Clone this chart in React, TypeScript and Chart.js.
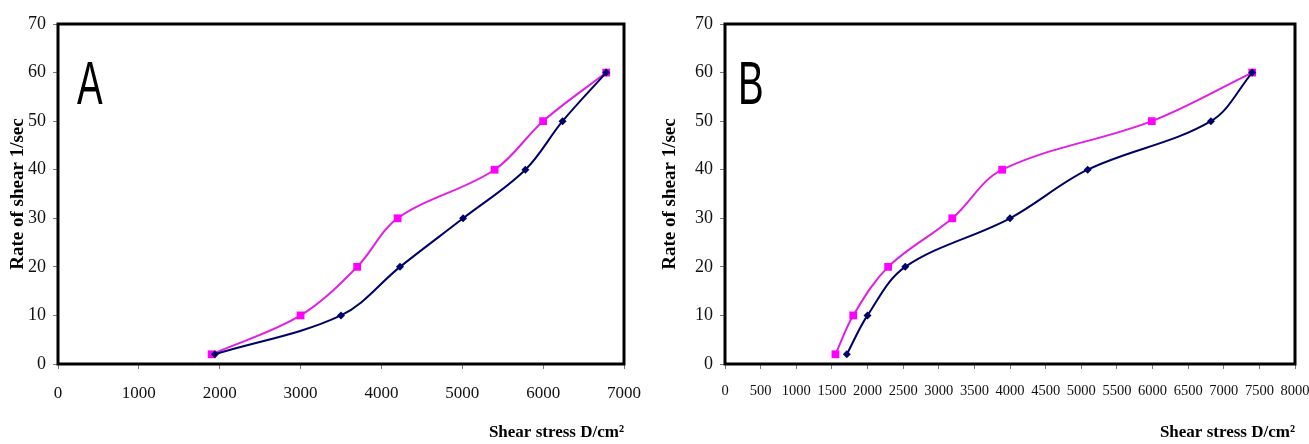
import React, { useEffect, useRef } from "react";
import { Chart, registerables } from "chart.js";

Chart.register(...registerables);

// Rate of shear (1/sec) — same levels for both series in both panels
const RATE_LEVELS = [2, 10, 20, 30, 40, 50, 60];

// Panel A — shear stress (D/cm²)
const A_PINK_STRESS = [1900, 3000, 3700, 4200, 5400, 6000, 6780];
const A_NAVY_STRESS = [1940, 3500, 4230, 5010, 5780, 6240, 6780];

// Panel B — shear stress (D/cm²)
const B_PINK_STRESS = [1550, 1800, 2290, 3190, 3890, 5990, 7400];
const B_NAVY_STRESS = [1710, 2000, 2530, 4000, 5090, 6820, 7400];

const Y_MIN = 0;
const Y_MAX = 70;
const Y_STEP = 10;

const X_TITLE = "Shear stress D/cm²";
const Y_TITLE = "Rate of shear 1/sec";

const SERIF = '"Liberation Serif", "Times New Roman", serif';

type PanelProps = {
  letter: string;
  pinkX: number[];
  navyX: number[];
  xMax: number;
  xStep: number;
  width: number;
  left: number;
  yWidth: number;
  rightPad: number;
  yTitlePad: number;
  xTickSize: number;
  xTickPad: number;
  letterX: number;
};

const H = 444;

function Panel(p: PanelProps) {
  const ref = useRef<HTMLCanvasElement | null>(null);

  useEffect(() => {
    const canvas = ref.current;
    if (!canvas) return;

    const framePlugin = {
      id: "frame",
      afterDraw(chart: any) {
        const { ctx, chartArea } = chart;
        ctx.save();
        ctx.strokeStyle = "#000";
        ctx.lineWidth = 3;
        ctx.strokeRect(
          chartArea.left,
          chartArea.top,
          chartArea.right - chartArea.left,
          chartArea.bottom - chartArea.top
        );
        // panel letter
        ctx.translate(p.letterX, 104);
        ctx.scale(0.62, 1);
        ctx.fillStyle = "#000";
        ctx.font = '400 62px "Liberation Sans", "DejaVu Sans", sans-serif';
        ctx.textBaseline = "alphabetic";
        ctx.textAlign = "left";
        ctx.fillText(p.letter, 0, 0);
        ctx.restore();
      },
    };

    const mk = (xs: number[]) => xs.map((x, i) => ({ x, y: RATE_LEVELS[i] }));
    const plain = (v: any) => String(v);

    const chart = new Chart(canvas, {
      type: "scatter",
      data: {
        datasets: [
          {
            data: mk(p.navyX),
            showLine: true,
            borderColor: "#000066",
            backgroundColor: "#000066",
            borderWidth: 2,
            pointStyle: "rectRot",
            pointRadius: 4,
            pointBorderWidth: 0,
            tension: 0.35,
          } as any,
          {
            data: mk(p.pinkX),
            showLine: true,
            borderColor: "#E020E0",
            backgroundColor: "#FF00FF",
            borderWidth: 2,
            pointStyle: "rect",
            pointRadius: 5.5,
            pointBorderWidth: 0,
            tension: 0.35,
          } as any,
        ],
      },
      options: {
        responsive: false,
        animation: false,
        layout: { padding: { left: 0, top: 24, right: p.rightPad, bottom: 0 } },
        plugins: {
          legend: { display: false },
          tooltip: { enabled: false },
        },
        scales: {
          x: {
            type: "linear",
            min: 0,
            max: p.xMax,
            ticks: {
              stepSize: p.xStep,
              autoSkip: false,
              minRotation: 0,
              maxRotation: 0,
              padding: p.xTickPad,
              color: "#111",
              font: { family: SERIF, size: p.xTickSize },
              callback: plain,
            },
            grid: { drawOnChartArea: false, drawTicks: true, tickLength: 5, color: "#777" },
            border: { display: false },
            title: {
              display: true,
              text: X_TITLE,
              align: "end",
              color: "#000",
              font: { family: SERIF, size: 17, weight: "bold" },
              padding: { top: 0, bottom: 1 },
            },
            afterFit: (s: any) => {
              s.height = 80;
              s.paddingLeft = 0;
              s.paddingRight = 0;
            },
          },
          y: {
            type: "linear",
            min: Y_MIN,
            max: Y_MAX,
            ticks: {
              stepSize: Y_STEP,
              padding: 7,
              color: "#111",
              font: { family: SERIF, size: 18 },
              callback: plain,
            },
            grid: { drawOnChartArea: false, drawTicks: true, tickLength: 5, color: "#777" },
            border: { display: false },
            title: {
              display: true,
              text: Y_TITLE,
              color: "#000",
              font: { family: SERIF, size: 19, weight: "bold" },
              padding: { top: p.yTitlePad, bottom: 0 },
            },
            afterFit: (s: any) => {
              s.width = p.yWidth;
              s.paddingTop = 0;
              s.paddingBottom = 0;
            },
          },
        },
      } as any,
      plugins: [framePlugin],
    });

    return () => chart.destroy();
  }, []);

  return (
    <div style={{ position: "absolute", left: p.left, top: 0, width: p.width, height: H }}>
      <canvas ref={ref} width={p.width} height={H} style={{ display: "block" }} />
    </div>
  );
}

export default function App() {
  return (
    <div
      style={{
        position: "fixed",
        left: 0,
        top: 0,
        width: 1309,
        height: H,
        background: "#fff",
        overflow: "hidden",
      }}
    >
      <Panel
        letter="A"
        pinkX={A_PINK_STRESS}
        navyX={A_NAVY_STRESS}
        xMax={7000}
        xStep={1000}
        width={650}
        left={0}
        yWidth={58}
        rightPad={26}
        yTitlePad={7}
        xTickSize={17}
        xTickPad={14}
        letterX={77}
      />
      <Panel
        letter="B"
        pinkX={B_PINK_STRESS}
        navyX={B_NAVY_STRESS}
        xMax={8000}
        xStep={500}
        width={659}
        left={650}
        yWidth={75}
        rightPad={14}
        yTitlePad={9}
        xTickSize={14.5}
        xTickPad={13}
        letterX={88}
      />
    </div>
  );
}
